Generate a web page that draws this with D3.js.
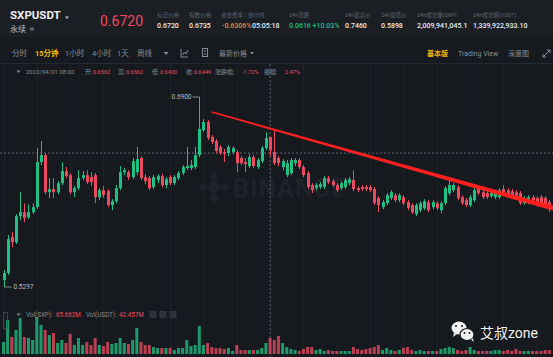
<!DOCTYPE html>
<html><head><meta charset="utf-8">
<script src="https://cdn.jsdelivr.net/npm/d3@7"></script>
<style>
html,body{margin:0;padding:0;background:#161a1e;overflow:hidden}
svg{display:block;font-family:Roboto,"Noto Sans CJK SC","Noto Sans",sans-serif}
</style></head>
<body><svg id="c" width="553" height="357"></svg>
<script>
// ---- data (15-minute candles, SXPUSDT) ----
const opens = [0.5356,0.5415,0.5718,0.5676,0.5895,0.5928,0.5886,0.5928,0.5971,0.6351,
0.6410,0.6097,0.6123,0.6097,0.6173,0.6275,0.6241,0.6097,0.6131,0.6216,
0.6241,0.6224,0.6241,0.6055,0.6114,0.6106,0.5988,0.6021,0.6131,0.6266,
0.6266,0.6224,0.6266,0.6385,0.6224,0.6216,0.6140,0.6199,0.6233,0.6157,
0.6224,0.6173,0.6216,0.6258,0.6300,0.6300,0.6309,0.6410,0.6621,0.6689,
0.6562,0.6528,0.6478,0.6435,0.6427,0.6435,0.6435,0.6385,0.6351,0.6317,
0.6393,0.6309,0.6359,0.6469,0.6562,0.6435,0.6385,0.6309,0.6241,0.6258,
0.6342,0.6368,0.6309,0.6258,0.6157,0.6131,0.6140,0.6140,0.6216,0.6190,
0.6157,0.6131,0.6140,0.6173,0.6199,0.6131,0.6140,0.6140,0.6140,0.6123,
0.6047,0.5971,0.6004,0.6047,0.6072,0.6030,0.6055,0.6013,0.5988,0.5912,
0.5945,0.5962,0.6013,0.5971,0.6004,0.5945,0.6004,0.6089,0.6114,0.6140,
0.6055,0.6030,0.5988,0.6030,0.6131,0.6097,0.6089,0.6064,0.6055,0.6055,
0.6123,0.6114,0.6106,0.6097,0.6089,0.6004,0.6013,0.6055,0.6047,0.6055,
0.6047,0.6013];
const highs = [0.5440,0.5735,0.5760,0.5912,0.6097,0.6004,0.5996,0.6004,0.6469,0.6528,
0.6427,0.6216,0.6216,0.6190,0.6351,0.6309,0.6258,0.6148,0.6283,0.6275,
0.6283,0.6266,0.6258,0.6131,0.6148,0.6123,0.6038,0.6157,0.6317,0.6300,
0.6283,0.6385,0.6478,0.6402,0.6249,0.6233,0.6241,0.6249,0.6249,0.6224,
0.6241,0.6241,0.6275,0.6326,0.6478,0.6368,0.6478,0.6900,0.6714,0.6706,
0.6579,0.6545,0.6494,0.6461,0.6494,0.6486,0.6452,0.6402,0.6385,0.6418,
0.6410,0.6385,0.6486,0.6604,0.6562,0.6621,0.6402,0.6376,0.6368,0.6385,
0.6385,0.6385,0.6326,0.6275,0.6173,0.6173,0.6182,0.6233,0.6233,0.6207,
0.6173,0.6190,0.6216,0.6224,0.6283,0.6148,0.6157,0.6157,0.6157,0.6140,
0.6064,0.6030,0.6089,0.6114,0.6089,0.6089,0.6072,0.6030,0.6004,0.6004,
0.6021,0.6038,0.6030,0.6030,0.6021,0.6021,0.6148,0.6199,0.6173,0.6157,
0.6072,0.6047,0.6072,0.6140,0.6148,0.6114,0.6106,0.6106,0.6106,0.6131,
0.6157,0.6131,0.6123,0.6114,0.6106,0.6064,0.6072,0.6072,0.6064,0.6072,
0.6064,0.6030];
const lows = [0.5297,0.5398,0.5633,0.5659,0.5861,0.5844,0.5869,0.5912,0.5954,0.6326,
0.6080,0.6047,0.6047,0.6080,0.6157,0.6216,0.6080,0.6055,0.6114,0.6199,
0.6165,0.6148,0.6004,0.6030,0.6047,0.5971,0.5945,0.6004,0.6114,0.6241,
0.6199,0.6207,0.6241,0.6199,0.6165,0.6114,0.6123,0.6173,0.6140,0.6131,
0.6157,0.6157,0.6199,0.6241,0.6283,0.6283,0.6292,0.6393,0.6604,0.6537,
0.6503,0.6427,0.6410,0.6351,0.6402,0.6418,0.6266,0.6326,0.6266,0.6300,
0.6300,0.6292,0.6342,0.6452,0.6400,0.6326,0.6317,0.6283,0.6224,0.6241,
0.6317,0.6292,0.6224,0.6123,0.6089,0.6114,0.6123,0.6123,0.6165,0.6140,
0.6097,0.6114,0.6123,0.6157,0.6106,0.6097,0.6106,0.6106,0.6097,0.5988,
0.5928,0.5954,0.5988,0.6030,0.6013,0.6013,0.5988,0.5945,0.5912,0.5895,
0.5928,0.5945,0.5928,0.5954,0.5945,0.5920,0.5988,0.6072,0.6097,0.6030,
0.5988,0.5971,0.5971,0.6013,0.6072,0.6038,0.6038,0.6047,0.6038,0.6038,
0.6072,0.6064,0.6055,0.6047,0.5988,0.5988,0.5996,0.6013,0.5996,0.5988,
0.5971,0.5928];
const closes = [0.5415,0.5701,0.5676,0.5895,0.5928,0.5878,0.5928,0.5971,0.6351,0.6410,
0.6097,0.6123,0.6097,0.6173,0.6275,0.6233,0.6097,0.6131,0.6216,0.6241,
0.6182,0.6182,0.6055,0.6114,0.6072,0.5988,0.6021,0.6131,0.6266,0.6283,
0.6224,0.6359,0.6376,0.6216,0.6190,0.6131,0.6224,0.6233,0.6157,0.6207,
0.6173,0.6224,0.6258,0.6309,0.6317,0.6326,0.6410,0.6630,0.6689,0.6554,
0.6520,0.6444,0.6427,0.6418,0.6478,0.6469,0.6342,0.6342,0.6334,0.6393,
0.6317,0.6368,0.6469,0.6554,0.6449,0.6342,0.6342,0.6359,0.6342,0.6368,
0.6368,0.6309,0.6241,0.6140,0.6114,0.6157,0.6165,0.6216,0.6182,0.6157,
0.6114,0.6173,0.6199,0.6207,0.6123,0.6114,0.6123,0.6123,0.6114,0.6004,
0.5988,0.6013,0.6072,0.6097,0.6030,0.6072,0.6004,0.5962,0.5928,0.5988,
0.6004,0.6021,0.5945,0.6013,0.5962,0.6004,0.6131,0.6157,0.6157,0.6047,
0.6004,0.5988,0.6055,0.6114,0.6089,0.6055,0.6055,0.6089,0.6089,0.6114,
0.6089,0.6080,0.6072,0.6064,0.6004,0.6047,0.6055,0.6030,0.6013,0.6004,
0.5988,0.5962];
const volumes = [24,68,34,48,72,34,32,28,74,58,
48,38,42,22,28,22,40,18,32,18,
24,18,32,18,16,24,20,22,32,22,
20,28,52,24,18,18,14,12,12,12,
12,8,12,12,28,16,18,56,18,22,
14,12,12,10,12,6,18,8,8,8,
8,8,12,22,32,28,36,22,14,10,
8,6,10,14,14,8,10,6,8,6,
6,6,6,6,14,10,8,10,12,14,
18,8,12,8,6,8,12,14,8,6,
8,6,6,6,6,10,12,14,12,8,
6,8,14,8,6,6,6,6,8,8,
6,8,6,10,6,6,6,6,6,6,
8,8];
const trendIdx = [50, 132];
const trendPrice = [0.6773, 0.5962];
const highMark = {i: 47, label: "0.6900"};
const lowMark = {i: 0, label: "0.5297"};
const crossIdx = 64;
const crossPrice = 0.6427;

const statLabels = ["标记价格","指数价格","资金费率 / 倒计时","24h涨跌","24h最高价","24h最低价","24h成交量(SXP)","24h成交额(USDT)"];
const statValues = ["0.6720","0.6735","-0.6306%","0.0616 +10.03%","0.7460","0.5898","2,009,941,045.1","1,339,922,933.10"];
const intervals = ["分时","15分钟","1小时","4小时","1天","周线"];

// ---- drawing ----
const W = 553, H = 357;
const GREEN = "#20bf83", RED = "#ec4a61", GRAY = "#848e9c", WHITE = "#eaecef";
const svg = d3.select("#c");
svg.append("rect").attr("width", W).attr("height", H).attr("fill", "#161a1e");
svg.append("rect").attr("width", W).attr("height", 37).attr("fill", "#1b1e23");
svg.append("line").attr("x1",0).attr("x2",W).attr("y1",63.5).attr("y2",63.5).attr("stroke","#252930");

const n = opens.length;
const x = d3.scaleLinear().domain([0, n - 1]).range([3.5, 549.2]);
const y = d3.scaleLinear().domain([0.5297, 0.69]).range([287, 97]);
const vy = d3.scaleLinear().domain([0, 100]).range([354, 304]);

// grid
const gridIdx = d3.range(0, n + 2, 8);
svg.append("g").selectAll("line").data(gridIdx).join("line")
  .attr("x1", d => Math.round(x(d)) + 0.5).attr("x2", d => Math.round(x(d)) + 0.5)
  .attr("y1", 64).attr("y2", H).attr("stroke", "#1d2127");

// watermark
const wm = svg.append("g").attr("fill", "#1f2329");
const lc = [214, 187];
wm.append("rect").attr("x", lc[0]-5).attr("y", lc[1]-5).attr("width", 10).attr("height", 10).attr("transform", `rotate(45 ${lc[0]} ${lc[1]})`);
[[0,-11],[0,11],[-11,0],[11,0]].forEach(([dx,dy]) => {
  wm.append("rect").attr("x", lc[0]+dx-3.5).attr("y", lc[1]+dy-3.5).attr("width", 7).attr("height", 7)
    .attr("transform", `rotate(45 ${lc[0]+dx} ${lc[1]+dy})`);
});
wm.append("text").attr("x", 233).attr("y", 197).attr("font-size", 25).attr("font-weight", 700)
  .attr("letter-spacing", 1).text("BINANCE");

// crosshair
svg.append("line").attr("x1", x(crossIdx)).attr("x2", x(crossIdx)).attr("y1", 64).attr("y2", H)
  .attr("stroke", "#5e6673").attr("stroke-dasharray", "2,2");
svg.append("line").attr("x1", 0).attr("x2", W).attr("y1", y(crossPrice)).attr("y2", y(crossPrice))
  .attr("stroke", "#5e6673").attr("stroke-dasharray", "2,2");

// volumes
const col = i => closes[i] >= opens[i] ? GREEN : RED;
svg.append("g").selectAll("rect").data(d3.range(n)).join("rect")
  .attr("x", i => x(i) - 1.5).attr("width", 3)
  .attr("y", i => vy(volumes[i])).attr("height", i => vy(0) - vy(volumes[i]))
  .attr("fill", col).attr("opacity", 0.78);

// candles
const cg = svg.append("g");
cg.selectAll("line").data(d3.range(n)).join("line")
  .attr("x1", i => Math.round(x(i)) + 0.5).attr("x2", i => Math.round(x(i)) + 0.5)
  .attr("y1", i => y(highs[i])).attr("y2", i => y(lows[i]))
  .attr("stroke", col).attr("stroke-width", 1);
cg.selectAll("rect").data(d3.range(n)).join("rect")
  .attr("x", i => Math.round(x(i)) - 1).attr("width", 3)
  .attr("y", i => y(Math.max(opens[i], closes[i])))
  .attr("height", i => Math.max(1, Math.abs(y(opens[i]) - y(closes[i]))))
  .attr("fill", col);

// high / low markers
const mk = svg.append("g").attr("fill", "#b7bdc6").attr("font-size", 6.5);
const hx = Math.round(x(highMark.i)) + 0.5, hy = y(highs[highMark.i]);
svg.append("line").attr("x1", hx - 7).attr("x2", hx).attr("y1", hy).attr("y2", hy).attr("stroke", "#b7bdc6").attr("stroke-width", 0.7);
mk.append("text").attr("x", hx - 8).attr("y", hy + 2.3).attr("text-anchor", "end").text(highMark.label);
const lx = Math.round(x(lowMark.i)) + 0.5, ly = y(lows[lowMark.i]);
svg.append("line").attr("x1", lx).attr("x2", lx + 7).attr("y1", ly).attr("y2", ly).attr("stroke", "#b7bdc6").attr("stroke-width", 0.7);
mk.append("text").attr("x", lx + 9).attr("y", ly + 2.3).text(lowMark.label);

// trend line (tapered)
const p0 = [x(trendIdx[0]), y(trendPrice[0])], p1 = [x(trendIdx[1]), y(trendPrice[1])];
const dx = p1[0]-p0[0], dy = p1[1]-p0[1], len = Math.hypot(dx, dy);
const nx = -dy/len, ny = dx/len, w0 = 0.8, w1 = 2.4;
svg.append("path").attr("fill", "#ff1f1f").attr("d",
  `M${p0[0]+nx*w0},${p0[1]+ny*w0}L${p1[0]+nx*w1},${p1[1]+ny*w1}L${p1[0]-nx*w1},${p1[1]-ny*w1}L${p0[0]-nx*w0},${p0[1]-ny*w0}Z`);

// header
svg.append("text").attr("x", 10).attr("y", 19).attr("font-size", 11.5).attr("font-weight", 700).attr("fill", WHITE).text("SXPUSDT");
svg.append("path").attr("d", "M65,16.5L69,16.5L67,19Z").attr("fill", "#b7bdc6");
svg.append("text").attr("x", 10).attr("y", 32).attr("font-size", 8).attr("fill", "#b7bdc6").text("永续");
svg.append("rect").attr("x", 30).attr("y", 27.5).attr("width", 4).attr("height", 3).attr("fill", "#5e6673");
svg.append("text").attr("x", 100).attr("y", 25.5).attr("font-size", 14).attr("fill", "#f6465d").text("0.6720");
const statX = [157, 189, 221, 289, 345, 381, 417, 473];
const hs = svg.append("g");
statLabels.forEach((t, k) => {
  hs.append("text").attr("x", statX[k]).attr("y", 17).attr("font-size", 5.5).attr("fill", "#5e6673").text(t);
});
statValues.forEach((t, k) => {
  const c = k === 2 ? "#e58a3a" : k === 3 ? GREEN : WHITE;
  hs.append("text").attr("x", statX[k] + (k===2?1:0)).attr("y", 28).attr("font-size", 7).attr("font-weight", 500).attr("fill", c).text(t);
});
hs.append("text").attr("x", 252).attr("y", 28).attr("font-size", 7).attr("font-weight", 500).attr("fill", WHITE).text("05:05:18");

// toolbar
const tbX = [12, 35, 65, 92, 117, 137];
intervals.forEach((t, k) => {
  svg.append("text").attr("x", tbX[k]).attr("y", 56).attr("font-size", 7.5)
    .attr("fill", k === 1 ? "#f0b90b" : GRAY).attr("font-weight", k === 1 ? 700 : 400).text(t);
});
svg.append("path").attr("d", "M163.5,52L168.5,52L166,55Z").attr("fill", GRAY);
svg.append("path").attr("d", "M181,49L181,57L188,57M182.5,55L184.5,52L186,54L188,50").attr("fill", "none").attr("stroke", GRAY).attr("stroke-width", 1);
svg.append("rect").attr("x", 202.5).attr("y", 48.5).attr("width", 5).attr("height", 8).attr("fill", "none").attr("stroke", GRAY);
svg.append("line").attr("x1", 204).attr("x2", 206).attr("y1", 51).attr("y2", 51).attr("stroke", GRAY);
svg.append("line").attr("x1", 204).attr("x2", 206).attr("y1", 54).attr("y2", 54).attr("stroke", GRAY);
svg.append("text").attr("x", 219).attr("y", 56).attr("font-size", 7).attr("fill", GRAY).text("最新价格");
svg.append("path").attr("d", "M250,52L254,52L252,54.5Z").attr("fill", GRAY);
svg.append("text").attr("x", 427).attr("y", 56).attr("font-size", 7).attr("font-weight", 700).attr("fill", "#f0b90b").text("基本版");
svg.append("text").attr("x", 458).attr("y", 56).attr("font-size", 7).attr("fill", GRAY).text("Trading View");
svg.append("text").attr("x", 508).attr("y", 56).attr("font-size", 7).attr("fill", GRAY).text("深度图");
svg.append("path").attr("d", "M543,57L550,50M547,50L550,50L550,53M543,54L543,57L546,57").attr("fill", "none").attr("stroke", GRAY).attr("stroke-width", 1);

// OHLC info row
svg.append("path").attr("d", "M16.5,70.5L20.5,70.5L18.5,73Z").attr("fill", GRAY);
const segs = [["2023/04/01 08:00", GRAY, 26, 6], ["开:", GRAY, 85, 6], ["0.6562", RED, 93, 5.6], ["高:", GRAY, 118, 6], ["0.6562", RED, 126, 5.6],
  ["低:", GRAY, 152, 6], ["0.6400", RED, 160, 5.6], ["收:", GRAY, 186, 6], ["0.6449", RED, 194, 5.6], ["涨跌幅:", GRAY, 215, 6], ["-1.72%", RED, 242, 5.6],
  ["振幅:", GRAY, 264, 6], ["2.47%", RED, 285, 5.6]];
const info = svg.append("g");
segs.forEach(([t, c, px, fs]) => info.append("text").attr("x", px).attr("y", 74).attr("font-size", fs).attr("fill", c).text(t));

// volume legend
svg.append("rect").attr("x", 3.5).attr("y", 312.5).attr("width", 4).attr("height", 16).attr("fill", "none").attr("stroke", "#474d57").attr("stroke-width", 0.8);
svg.append("path").attr("d", "M16.5,313.5L20.5,313.5L18.5,316Z").attr("fill", GRAY);
const vsegs = [["Vol(SXP):", GRAY, 26], ["65.662M", RED, 56], ["Vol(USDT):", GRAY, 86], ["42.457M", RED, 119]];
vsegs.forEach(([t, c, px]) => svg.append("text").attr("x", px).attr("y", 317).attr("font-size", 6.3).attr("fill", c).text(t));
[150, 160, 170].forEach(px => svg.append("rect").attr("x", px).attr("y", 311.5).attr("width", 6).attr("height", 6)
  .attr("fill", "#2b3139").attr("stroke", "#3c424b").attr("stroke-width", 0.6));

// wechat watermark
const wc = svg.append("g");
wc.append("ellipse").attr("cx", 459).attr("cy", 328).attr("rx", 7.5).attr("ry", 6.5).attr("fill", "#f2f2f2");
wc.append("path").attr("d", "M454,333L453,337L457,334Z").attr("fill", "#f2f2f2");
wc.append("ellipse").attr("cx", 467).attr("cy", 334.5).attr("rx", 7).attr("ry", 6).attr("fill", "#f2f2f2").attr("stroke", "#161a1e").attr("stroke-width", 1.2);
wc.append("path").attr("d", "M471,339.5L474,342L472.5,338Z").attr("fill", "#f2f2f2");
[[456,326],[462,326]].forEach(([a,b]) => wc.append("circle").attr("cx", a).attr("cy", b).attr("r", 1).attr("fill", "#161a1e"));
[[464.5,333],[469.5,333]].forEach(([a,b]) => wc.append("circle").attr("cx", a).attr("cy", b).attr("r", 0.9).attr("fill", "#161a1e"));
svg.append("text").attr("x", 480).attr("y", 338).attr("font-size", 14).attr("fill", "#f2f2f2").text("艾叔zone");
</script></body></html>
